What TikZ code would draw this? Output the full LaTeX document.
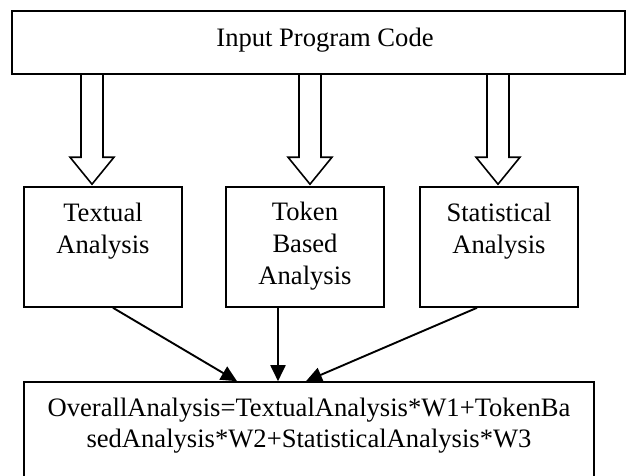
\documentclass[tikz,border=0pt]{standalone}
\usepackage{fontspec}
\setmainfont{Liberation Serif}
\usetikzlibrary{arrows.meta, calc, positioning}

\tikzset{
  box/.style={draw, rectangle, line width=1.6pt, inner sep=0pt},
  lbl/.style={font=\fontsize{26.6}{32}\selectfont, align=center, inner sep=0pt, anchor=base},
  fat/.style={line width=1.6pt, line join=miter},
  pointer/.style={-{Triangle[length=16pt,width=15pt]}, line width=1.9pt}
}

\begin{document}
\begin{tikzpicture}[x=1pt, y=-1pt]
\clip (0,0) rectangle (626,476);

% boxes
\node[box, minimum width=613pt, minimum height=63pt] (inp) at (318.5,42.5) {};
\node[box, minimum width=158pt, minimum height=120pt] (tex) at (103,247) {};
\node[box, minimum width=158pt, minimum height=120pt] (tok) at (305,247) {};
\node[box, minimum width=158pt, minimum height=120pt] (sta) at (499,247) {};
\node[box, minimum width=570pt, minimum height=98pt] (res) at (309,431) {};

% texts (anchored at the base of the last line)
\node[lbl] (inpl) at (325,47) {Input Program Code};
\node[lbl] (texl) at ($(tex.north)+(0,67)$) {Textual\\Analysis};
\node[lbl] (tokl) at ($(tok.north)+(0,98)$) {Token\\Based\\Analysis};
\node[lbl] (stal) at ($(sta.north)+(0,67)$) {Statistical\\Analysis};
\node[lbl, font=\fontsize{26.6}{31}\selectfont] (resl) at ($(res.north)+(0,66)$)
  {OverallAnalysis=TextualAnalysis*W1+TokenBa\\sedAnalysis*W2+StatisticalAnalysis*W3};

% hollow arrows
\coordinate (h1) at ($(tex.north)+(-11,-2)$);
\coordinate (h2) at ($(tok.north)+(5,-2)$);
\coordinate (h3) at ($(sta.north)+(-1,-2)$);
\foreach \h in {h1,h2,h3}{
  \draw[fat] ($(\h |- inp.south)+(-11,0)$) -- ($(\h)+(-11,-27)$) -- ($(\h)+(-22,-27)$)
    -- (\h) -- ($(\h)+(22,-27)$) -- ($(\h)+(11,-27)$) -- ($(\h |- inp.south)+(11,0)$);
}

% solid arrows
\draw[pointer] ($(tex.south)+(10,0)$) -- ($(res.north)+(-72,0)$);
\draw[pointer] ($(tok.south)+(-27,0)$) -- ($(res.north)+(-31,0)$);
\draw[pointer] ($(sta.south)+(-22,0)$) -- ($(res.north)+(-3,0)$);
\end{tikzpicture}
\end{document}
